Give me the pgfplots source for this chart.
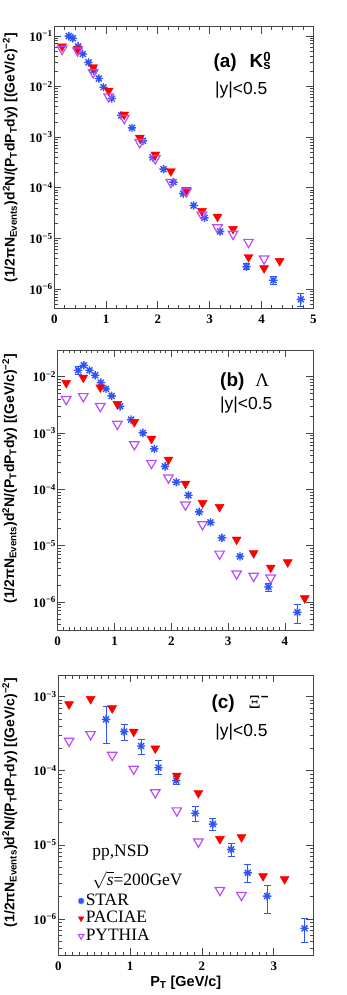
\documentclass[border=0pt]{standalone}
\usepackage{fontspec}
\setmainfont{Liberation Sans}
\newfontfamily\serif{Liberation Serif}
\usepackage{pgfplots}
\pgfplotsset{compat=1.18}

\definecolor{starblue}{RGB}{45,85,250}
\definecolor{pacred}{RGB}{255,0,0}
\definecolor{pytviolet}{RGB}{185,75,250}
\definecolor{framegray}{RGB}{70,70,70}

\newcommand\tickfont{\serif\bfseries\fontsize{13}{14}\selectfont}
\newcommand\labfont{\bfseries\fontsize{14}{16}\selectfont}
\newcommand\panfont{\bfseries\fontsize{19}{21}\selectfont}
\newcommand\yfont{\fontsize{17.5}{19}\selectfont}
\newcommand\legfont{\serif\fontsize{17.5}{19}\selectfont}
\newcommand\ylab{\labfont (1/2πN\textsubscript{Events})d\textsuperscript{2}N/(P\textsubscript{T}dP\textsubscript{T}dy) [(GeV/c)\textsuperscript{−2}]}

% ROOT style marker 3: + and x together
\pgfdeclareplotmark{rootstar}{%
  \pgfpathmoveto{\pgfqpoint{-\pgfplotmarksize}{0pt}}%
  \pgfpathlineto{\pgfqpoint{\pgfplotmarksize}{0pt}}%
  \pgfpathmoveto{\pgfqpoint{0pt}{-\pgfplotmarksize}}%
  \pgfpathlineto{\pgfqpoint{0pt}{\pgfplotmarksize}}%
  \pgfpathmoveto{\pgfqpoint{-.7071\pgfplotmarksize}{-.7071\pgfplotmarksize}}%
  \pgfpathlineto{\pgfqpoint{.7071\pgfplotmarksize}{.7071\pgfplotmarksize}}%
  \pgfpathmoveto{\pgfqpoint{-.7071\pgfplotmarksize}{.7071\pgfplotmarksize}}%
  \pgfpathlineto{\pgfqpoint{.7071\pgfplotmarksize}{-.7071\pgfplotmarksize}}%
  \pgfusepathqstroke}

\pgfkeys{/pgf/number format/assume math mode=true}
\pgfplotsset{
  log number format basis/.code 2 args={\pgfmathtruncatemacro\myexp{round(-(#2))}10\textsuperscript{−\myexp}},
  every axis/.append style={
    scale only axis,
    axis line style={framegray, line width=0.9bp},
    major tick length=7bp, minor tick length=3.5bp,
    xtick pos=both, ytick pos=both, tick align=inside,
    tick label style={font=\tickfont},
    yticklabel style={inner sep=1.5bp},
    xticklabel style={yshift=-3bp},
  },
  every tick/.append style={framegray, line width=0.8bp},
  every minor tick/.append style={framegray, line width=0.8bp},
  starset/.style={only marks, mark=rootstar, starblue, mark size=4.2bp, line width=1.4bp,
    error bars/y dir=both, error bars/y explicit,
    error bars/error bar style={starblue, line width=1bp},
    error bars/error mark options={rotate=90, starblue, mark size=3.5bp, line width=1bp}},
  paciae/.style={only marks, mark=triangle*, pacred, mark size=5.2bp,
    mark options={rotate=180, fill=pacred, draw=pacred}},
  pythia/.style={only marks, mark=triangle, pytviolet, mark size=5.5bp,
    mark options={rotate=180, draw=pytviolet, line width=1.2bp}},
}

% ---------- panel (a) K0s ----------
\pgfplotstableread{
x y ep em
0.28 0.099 0 0
0.36 0.090 0 0
0.46 0.062 0 0
0.55 0.044 0 0
0.66 0.030 0 0
0.76 0.0207 0 0
0.86 0.0144 0 0
0.95 0.0097 0 0
1.11 0.0058 0 0
1.29 0.00269 0 0
1.50 0.00153 0 0
1.71 8.5e-4 0 0
1.90 4.0e-4 0 0
2.11 2.34e-4 0 0
2.30 1.3e-4 0 0
2.49 7.7e-5 0 0
2.69 4.5e-5 0 0
2.90 2.56e-5 0 0
3.20 1.38e-5 0 0
3.71 2.8e-6 0.4e-6 0.4e-6
4.23 1.5e-6 0.25e-6 0.25e-6
4.76 6.3e-7 2.0e-7 1.7e-7
}\starA
\pgfplotstableread{
x y
0.15 0.062
0.45 0.055
0.75 0.024
1.05 0.0083
1.35 0.0028
1.65 9.8e-4
1.95 4.55e-4
2.25 2.14e-4
2.55 9.1e-5
2.85 3.5e-5
3.15 2.7e-5
3.45 1.55e-5
3.75 4.3e-6
4.05 2.6e-6
4.35 3.6e-6
}\pacA
\pgfplotstableread{
x y
0.15 0.055
0.45 0.051
0.75 0.019
1.05 0.0063
1.35 0.00237
1.65 7.9e-4
1.95 3.8e-4
2.25 1.29e-4
2.55 8.5e-5
2.85 2.95e-5
3.15 1.65e-5
3.45 1.23e-5
3.75 8.5e-6
4.05 4.0e-6
}\pytA

% ---------- panel (b) Lambda ----------
\pgfplotstableread{
x y ep em
0.36 0.0131 0.002 0.002
0.46 0.0161 0 0
0.56 0.0131 0 0
0.66 0.0107 0 0
0.76 0.0079 0 0
0.85 0.0061 0 0
0.95 0.0046 0 0
1.10 0.0030 0 0
1.29 0.00174 0 0
1.50 0.00101 0 0
1.70 5.25e-4 0 0
1.89 2.57e-4 0 0
2.09 1.35e-4 0 0
2.30 7.9e-5 0 0
2.49 4.0e-5 0 0
2.69 2.6e-5 0 0
2.89 1.38e-5 0 0
3.21 6.5e-6 0 0
3.71 1.86e-6 0.3e-6 0.3e-6
4.22 6.6e-7 2.6e-7 2.5e-7
}\starB
\pgfplotstableread{
x y
0.15 0.0078
0.45 0.0097
0.75 0.0065
1.05 0.0033
1.35 0.00158
1.65 7.97e-4
1.95 3.39e-4
2.25 1.27e-4
2.55 5.75e-5
2.85 4.9e-5
3.15 1.29e-5
3.45 7.4e-6
3.75 4.1e-6
4.05 5.1e-6
4.35 1.17e-6
}\pacB
\pgfplotstableread{
x y
0.15 0.0040
0.45 0.0045
0.75 0.0030
1.05 0.00145
1.35 6.3e-4
1.65 2.94e-4
1.95 1.62e-4
2.25 5.35e-5
2.55 2.4e-5
2.85 7.2e-6
3.15 3.2e-6
3.45 2.9e-6
3.75 2.7e-6
}\pytB

% ---------- panel (c) Xi- ----------
\pgfplotstableread{
x y ep em
0.665 4.94e-4 2.4e-4 2.6e-4
0.916 3.37e-4 0.9e-4 0.77e-4
1.153 2.16e-4 0.5e-4 0.48e-4
1.395 1.10e-4 0.26e-4 0.22e-4
1.642 7.35e-5 0.95e-5 0.75e-5
1.907 2.67e-5 0.6e-5 0.61e-5
2.153 1.91e-5 0.39e-5 0.36e-5
2.405 8.7e-6 1.8e-6 1.8e-6
2.637 4.2e-6 1.3e-6 1.1e-6
2.907 2.04e-6 0.76e-6 0.84e-6
3.428 7.5e-7 2.7e-7 2.7e-7
}\starC
\pgfplotstableread{
x y
0.15 7.9e-4
0.45 9.3e-4
0.75 6.97e-4
1.05 3.37e-4
1.35 2.0e-4
1.65 8.6e-5
1.95 5.0e-5
2.25 1.2e-5
2.55 1.27e-5
2.85 3.8e-6
3.15 3.46e-6
}\pacC
\pgfplotstableread{
x y
0.15 2.53e-4
0.45 3.1e-4
0.75 1.63e-4
1.05 1.06e-4
1.35 5.1e-5
1.65 2.9e-5
1.95 1.1e-5
2.25 2.45e-6
2.55 2.1e-6
}\pytC

\begin{document}
\begin{tikzpicture}
\useasboundingbox (0,0) rectangle (347bp,995bp);

% (a)
\begin{semilogyaxis}[at={(54.3bp,686.7bp)}, anchor=south west,
  width=259bp, height=281.6bp,
  xmin=0, xmax=5, ymin=4.2e-7, ymax=0.152,
  xtick={0,1,2,3,4,5}, minor x tick num=4,
  ylabel={\ylab},
  ylabel style={at={(rel axis cs:-0.128,0.535)}, anchor=south}]
\addplot[starset] table[x=x, y=y, y error plus=ep, y error minus=em] {\starA};
\addplot[paciae] table[x=x, y=y] {\pacA};
\addplot[pythia] table[x=x, y=y] {\pytA};
\node[anchor=west, inner sep=0, font=\panfont] at (rel axis cs:0.614,0.876)
  {(a)\hspace{13bp}K\rlap{\textsuperscript{0}}\textsubscript{s}};
\node[anchor=west, inner sep=0, font=\yfont] at (rel axis cs:0.620,0.775) {|y|<0.5};
\end{semilogyaxis}

% (b)
\begin{semilogyaxis}[at={(57.7bp,365bp)}, anchor=south west,
  width=255.6bp, height=280bp,
  xmin=0, xmax=4.5, ymin=3.2e-7, ymax=0.030,
  xtick={0,1,2,3,4}, minor x tick num=9,
  ylabel={\ylab},
  ylabel style={at={(rel axis cs:-0.145,0.54)}, anchor=south}]
\addplot[starset] table[x=x, y=y, y error plus=ep, y error minus=em] {\starB};
\addplot[paciae] table[x=x, y=y] {\pacB};
\addplot[pythia] table[x=x, y=y] {\pytB};
\node[anchor=west, inner sep=0, font=\panfont] at (rel axis cs:0.635,0.887)
  {(b)\hspace{11bp}{\serif\mdseries Λ}};
\node[anchor=west, inner sep=0, font=\yfont] at (rel axis cs:0.635,0.804) {|y|<0.5};
\end{semilogyaxis}

% (c)
\begin{semilogyaxis}[at={(58.3bp,40bp)}, anchor=south west,
  width=255bp, height=280bp,
  xmin=0, xmax=3.55, ymin=3.27e-7, ymax=1.96e-3,
  xtick={0,1,2,3}, minor x tick num=9,
  ylabel={\ylab},
  ylabel style={at={(rel axis cs:-0.147,0.545)}, anchor=south},
  xlabel={\bfseries\fontsize{14.5}{16}\selectfont P\textsubscript{T} [GeV/c]},
  xlabel style={at={(rel axis cs:0.5,0)}, anchor=center, yshift=-28bp},
  legend style={draw=none, fill=none, at={(rel axis cs:0.076,0.036)}, anchor=south west,
    font=\legfont, row sep=0pt, inner sep=0pt,
    nodes={inner sep=1.5bp, text height=11.5bp, text depth=3bp},
    /tikz/every even column/.append style={column sep=7bp}},
  legend cell align=left,
  legend image code/.code={\draw[#1, mark size=3.2bp] plot coordinates {(0bp,0bp)};}]
\addplot[starset] table[x=x, y=y, y error plus=ep, y error minus=em] {\starC};
\addplot[paciae] table[x=x, y=y] {\pacC};
\addplot[pythia] table[x=x, y=y] {\pytC};
\legend{STAR, PACIAE, PYTHIA}
\node[anchor=west, inner sep=0, font=\panfont] at (rel axis cs:0.60,0.899)
  {(c)\hspace{14bp}{\serif\mdseries Ξ}\textsuperscript{−}};
\node[anchor=west, inner sep=0, font=\yfont] at (rel axis cs:0.615,0.7975) {|y|<0.5};
\node[anchor=west, inner sep=0, font=\legfont] at (rel axis cs:0.133,0.365) {pp,NSD};
\node[anchor=west, inner sep=0, font=\legfont] at (rel axis cs:0.133,0.266) {$\sqrt{\hbox{\legfont\itshape s}}$=200GeV};
\end{semilogyaxis}
\end{tikzpicture}
\end{document}
